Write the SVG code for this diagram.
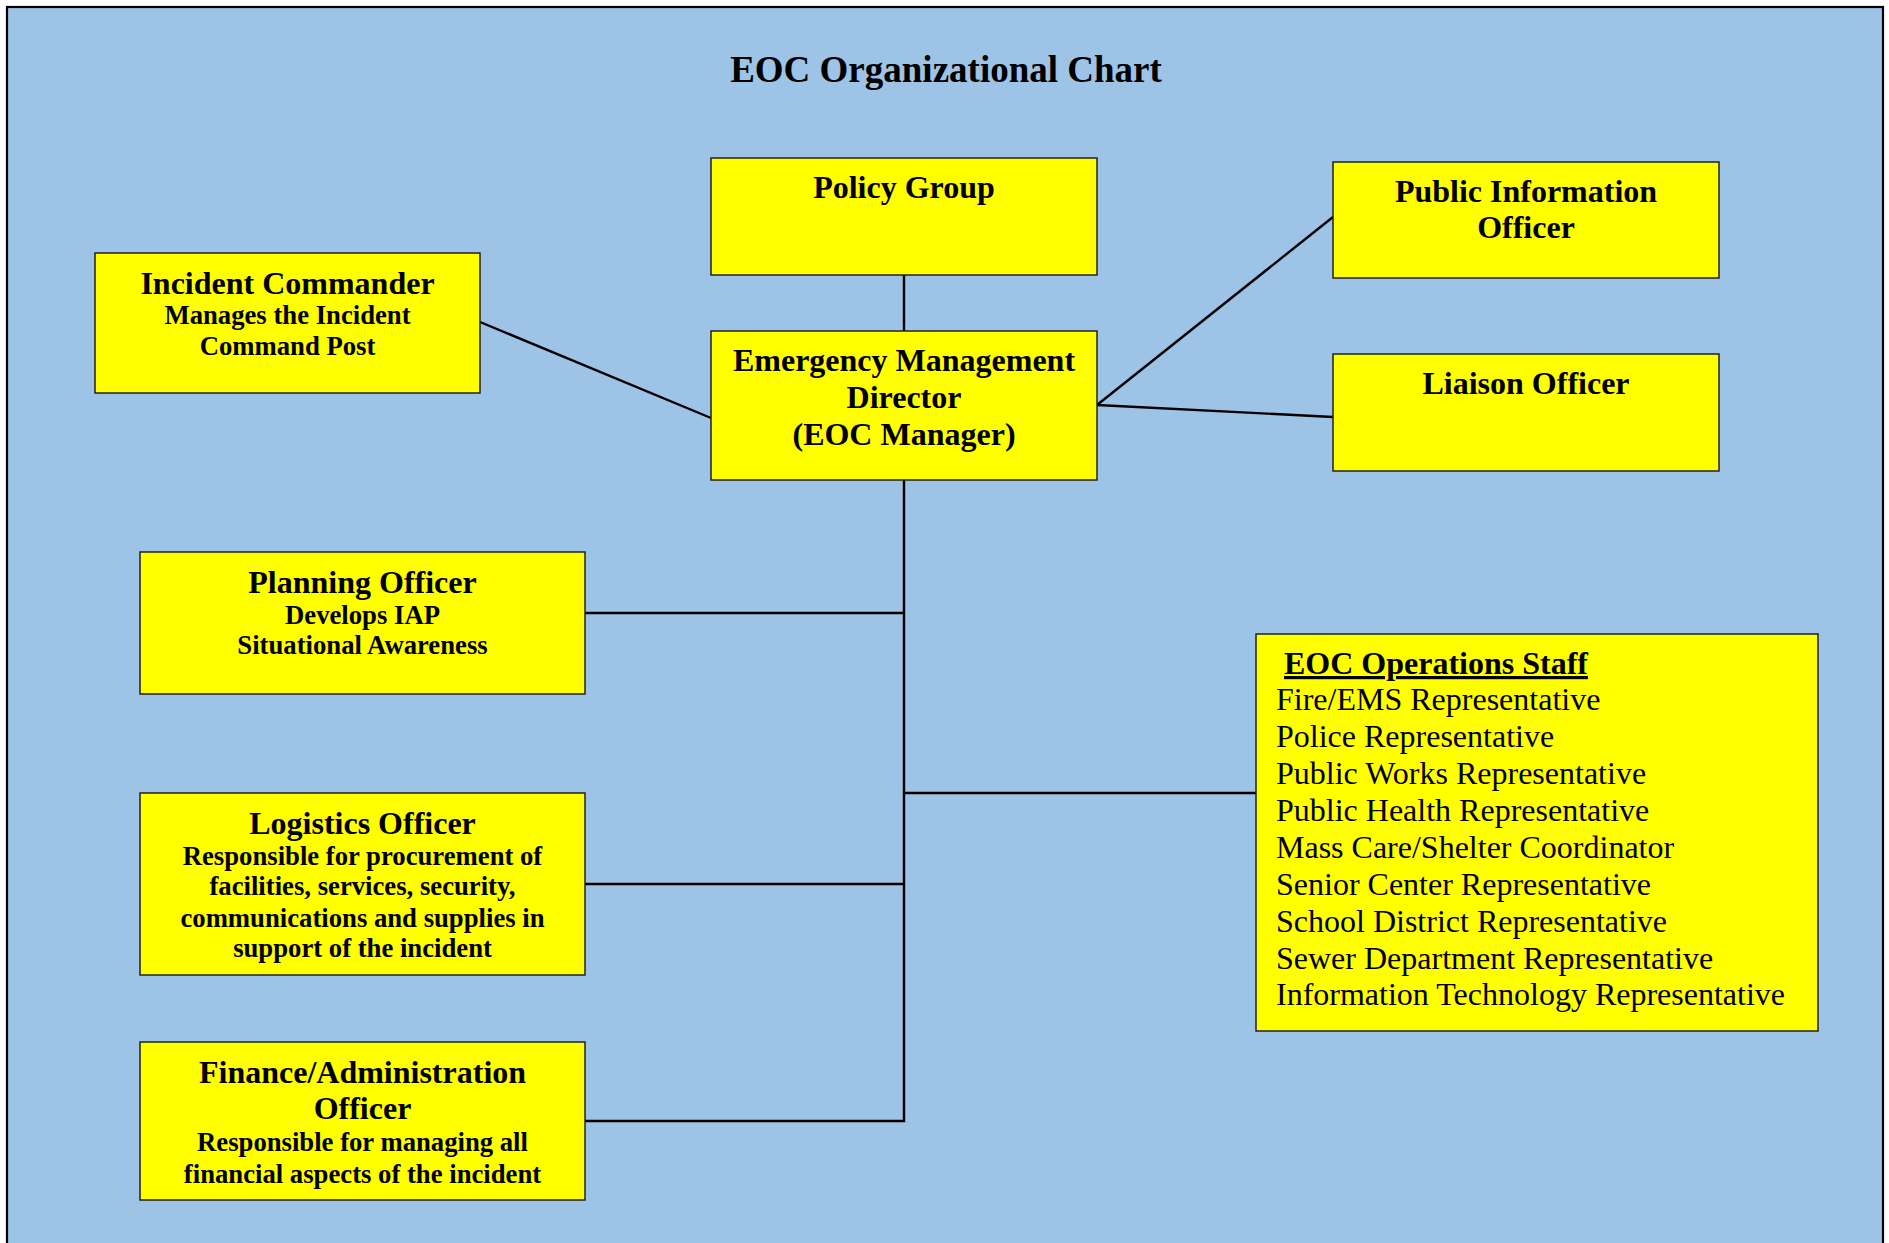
<svg xmlns="http://www.w3.org/2000/svg" width="1889" height="1243" viewBox="0 0 1889 1243">
  <style>
    .box { fill: #FFFF00; stroke: #222222; stroke-width: 1.5; }
    .conn { stroke: #000000; stroke-width: 2.4; fill: none; }
    .t { font-family: "Liberation Serif", "Times New Roman", serif; font-weight: bold; fill: #000; text-anchor: middle; }
    .h { font-size: 32px; }
    .s { font-size: 26.7px; }
    .l { font-family: "Liberation Serif", "Times New Roman", serif; font-size: 32px; fill: #000; }
  </style>
  <rect x="0" y="0" width="1889" height="1243" fill="#FFFFFF"/>
  <rect id="frame" x="7" y="7" width="1876" height="1260" fill="#9DC3E6" stroke="#000000" stroke-width="2.2"/>
  <text class="t" x="946" y="82" style="font-size:37px">EOC Organizational Chart</text>

  <g id="connectors">
    <line class="conn" x1="904" y1="275" x2="904" y2="331"/>
    <line class="conn" x1="480" y1="322" x2="711" y2="418"/>
    <line class="conn" x1="1097" y1="405" x2="1333" y2="217"/>
    <line class="conn" x1="1097" y1="405" x2="1333" y2="417"/>
    <polyline class="conn" points="904,480 904,1121 585,1121"/>
    <line class="conn" x1="585" y1="613" x2="904" y2="613"/>
    <line class="conn" x1="585" y1="884" x2="904" y2="884"/>
    <line class="conn" x1="904" y1="793" x2="1256" y2="793"/>
  </g>

  <g id="policy-group">
    <rect class="box" x="711" y="158" width="386" height="117"/>
    <text class="t h" x="904" y="198">Policy Group</text>
  </g>

  <g id="emergency-management-director">
    <rect class="box" x="711" y="331" width="386" height="149"/>
    <text class="t h" x="904" y="371">Emergency Management</text>
    <text class="t h" x="904" y="408">Director</text>
    <text class="t h" x="904" y="445">(EOC Manager)</text>
  </g>

  <g id="incident-commander">
    <rect class="box" x="95" y="253" width="385" height="140"/>
    <text class="t h" x="287.5" y="294">Incident Commander</text>
    <text class="t s" x="287.5" y="324">Manages the Incident</text>
    <text class="t s" x="287.5" y="355">Command Post</text>
  </g>

  <g id="public-information-officer">
    <rect class="box" x="1333" y="162" width="386" height="116"/>
    <text class="t h" x="1526" y="202">Public Information</text>
    <text class="t h" x="1526" y="238">Officer</text>
  </g>

  <g id="liaison-officer">
    <rect class="box" x="1333" y="354" width="386" height="117"/>
    <text class="t h" x="1526" y="394">Liaison Officer</text>
  </g>

  <g id="planning-officer">
    <rect class="box" x="140" y="552" width="445" height="142"/>
    <text class="t h" x="362.5" y="593">Planning Officer</text>
    <text class="t s" x="362.5" y="624">Develops IAP</text>
    <text class="t s" x="362.5" y="654">Situational Awareness</text>
  </g>

  <g id="logistics-officer">
    <rect class="box" x="140" y="793" width="445" height="182"/>
    <text class="t h" x="362.5" y="834">Logistics Officer</text>
    <text class="t s" x="362.5" y="865">Responsible for procurement of</text>
    <text class="t s" x="362.5" y="895">facilities, services, security,</text>
    <text class="t s" x="362.5" y="927">communications and supplies in</text>
    <text class="t s" x="362.5" y="957">support of the incident</text>
  </g>

  <g id="finance-administration-officer">
    <rect class="box" x="140" y="1042" width="445" height="158"/>
    <text class="t h" x="362.5" y="1083">Finance/Administration</text>
    <text class="t h" x="362.5" y="1119">Officer</text>
    <text class="t s" x="362.5" y="1151">Responsible for managing all</text>
    <text class="t s" x="362.5" y="1183">financial aspects of the incident</text>
  </g>

  <g id="eoc-operations-staff">
    <rect class="box" x="1256" y="634" width="562" height="397"/>
    <text class="l" x="1284" y="674" font-weight="bold" text-decoration="underline">EOC Operations Staff</text>
    <text class="l" x="1276" y="710">Fire/EMS Representative</text>
    <text class="l" x="1276" y="747">Police Representative</text>
    <text class="l" x="1276" y="784">Public Works Representative</text>
    <text class="l" x="1276" y="821">Public Health Representative</text>
    <text class="l" x="1276" y="858">Mass Care/Shelter Coordinator</text>
    <text class="l" x="1276" y="895">Senior Center Representative</text>
    <text class="l" x="1276" y="932">School District Representative</text>
    <text class="l" x="1276" y="969">Sewer Department Representative</text>
    <text class="l" x="1276" y="1005">Information Technology Representative</text>
  </g>
</svg>
